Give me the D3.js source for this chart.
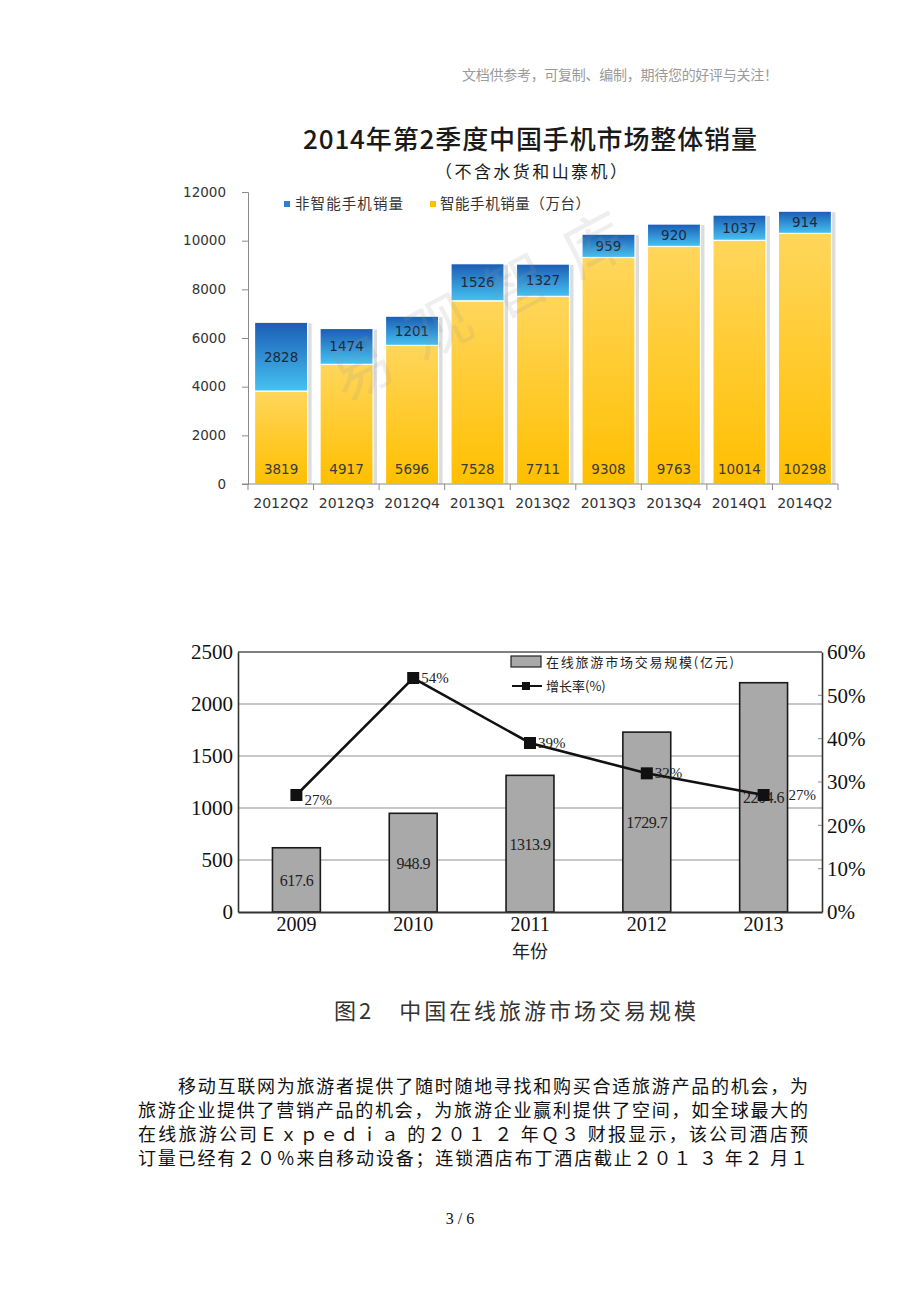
<!DOCTYPE html>
<html><head><meta charset="utf-8">
<script src="https://cdn.jsdelivr.net/npm/d3@7"></script>
<style>html,body{margin:0;padding:0;background:#fff;}svg{display:block;}</style>
</head><body>
<script>
// ---- Chart 1 data ----
const quarters = ["2012Q2","2012Q3","2012Q4","2013Q1","2013Q2","2013Q3","2013Q4","2014Q1","2014Q2"];
const smartSales = [3819,4917,5696,7528,7711,9308,9763,10014,10298];
const featureSales = [2828,1474,1201,1526,1327,959,920,1037,914];
const yTicks1 = [0,2000,4000,6000,8000,10000,12000];
// ---- Chart 2 data ----
const years = ["2009","2010","2011","2012","2013"];
const marketSize = [617.6,948.9,1313.9,1729.7,2204.6];
const growthRate = [27,54,39,32,27];
const yTicks2 = [0,500,1000,1500,2000,2500];
const yTicksPct = [0,10,20,30,40,50,60];
// ---- texts ----
const paragraph = [
 "移动互联网为旅游者提供了随时随地寻找和购买合适旅游产品的机会，为",
 "旅游企业提供了营销产品的机会，为旅游企业赢利提供了空间，如全球最大的",
 "在线旅游公司Ｅｘｐｅｄｉａ 的２０１ ２ 年Ｑ３ 财报显示，该公司酒店预",
 "订量已经有２０％来自移动设备；连锁酒店布丁酒店截止２０１ ３ 年２ 月１"
];

const W=920,H=1302;
const svg=d3.select("body").append("svg").attr("width",W).attr("height",H);
const defs=svg.append("defs");
const gB=defs.append("linearGradient").attr("id","gBlue").attr("x1",0).attr("y1",0).attr("x2",0).attr("y2",1);
gB.append("stop").attr("offset","0%").attr("stop-color","#1b5cb4");
gB.append("stop").attr("offset","100%").attr("stop-color","#45c2f2");
const gY=defs.append("linearGradient").attr("id","gYel").attr("x1",0).attr("y1",0).attr("x2",0).attr("y2",1);
gY.append("stop").attr("offset","0%").attr("stop-color","#ffd65c");
gY.append("stop").attr("offset","100%").attr("stop-color","#ffbf00");

// header
svg.append("text").attr("x",462).attr("y",80).attr("font-family","Noto Sans CJK SC").attr("font-size",14)
 .attr("fill","#9a9a9a").attr("textLength",316).text("文档供参考，可复制、编制，期待您的好评与关注！");

// ===== Chart 1 =====
const c1=svg.append("g");
const sans="'Noto Sans CJK SC','Noto Sans',sans-serif";
const num="'DejaVu Sans',Verdana,sans-serif";
c1.append("text").attr("x",530).attr("y",149).attr("text-anchor","middle").attr("font-family",sans)
 .attr("font-size",26).attr("font-weight",500).attr("fill","#1a1a1a").attr("textLength",454).text("2014年第2季度中国手机市场整体销量");
c1.append("text").attr("x",531).attr("y",178).attr("text-anchor","middle").attr("font-family",sans)
 .attr("font-size",17).attr("fill","#1a1a1a").attr("textLength",192).text("（不含水货和山寨机）");

const y1=d3.scaleLinear().domain([0,12000]).range([484,192]);
const x1=d3.scaleBand().domain(quarters).range([248,838]).paddingInner(0.19).paddingOuter(0.1);

// bars
const bars=c1.append("g").selectAll("g").data(quarters).join("g");
bars.append("rect").attr("x",d=>x1(d)+2).attr("y",(d,i)=>y1(smartSales[i]+featureSales[i])+1)
 .attr("width",x1.bandwidth()+2).attr("height",(d,i)=>484-y1(smartSales[i]+featureSales[i])-1)
 .attr("fill","#dcdcdc");
bars.append("rect").attr("x",d=>x1(d)).attr("y",(d,i)=>y1(smartSales[i]))
 .attr("width",x1.bandwidth()).attr("height",(d,i)=>484-y1(smartSales[i]))
 .attr("fill","url(#gYel)").attr("stroke","#fff").attr("stroke-width",1.2);
bars.append("rect").attr("x",d=>x1(d)).attr("y",(d,i)=>y1(smartSales[i]+featureSales[i]))
 .attr("width",x1.bandwidth()).attr("height",(d,i)=>y1(smartSales[i])-y1(smartSales[i]+featureSales[i]))
 .attr("fill","url(#gBlue)").attr("stroke","#fff").attr("stroke-width",1.2);

// watermark (over bars, faint)
c1.append("text").attr("transform","translate(500,320) rotate(-28)").attr("text-anchor","middle")
 .attr("font-family",sans).attr("font-size",62).attr("fill","rgba(150,150,150,0.16)")
 .attr("letter-spacing",26).text("易观智库");

bars.append("text").attr("x",d=>x1(d)+x1.bandwidth()/2).attr("y",474).attr("text-anchor","middle")
 .attr("font-family",num).attr("font-size",13.5).attr("fill","#3a3a3a").text((d,i)=>smartSales[i]);
bars.append("text").attr("x",d=>x1(d)+x1.bandwidth()/2)
 .attr("y",(d,i)=>(y1(smartSales[i])+y1(smartSales[i]+featureSales[i]))/2+5).attr("text-anchor","middle")
 .attr("font-family",num).attr("font-size",13.5).attr("fill","#1e2a3a").text((d,i)=>featureSales[i]);

// y axis
const ya1=c1.append("g").attr("transform","translate(248,0)")
 .call(d3.axisLeft(y1).tickValues(yTicks1).tickSize(6).tickPadding(16).tickFormat(d3.format("d")));
ya1.select(".domain").attr("stroke","#8a8a8a");
ya1.selectAll(".tick line").attr("stroke","#8a8a8a");
ya1.selectAll("text").attr("font-family",num).attr("font-size",13.5).attr("fill","#333");
// x axis
const xa1=c1.append("g").attr("transform","translate(0,484)")
 .call(d3.axisBottom(x1).tickSize(0).tickPadding(14));
xa1.select(".domain").attr("stroke","#8a8a8a").attr("d","M242,0H838");
xa1.selectAll("text").attr("font-family",num).attr("font-size",14).attr("fill","#333");
const step1=590/quarters.length;
c1.append("g").selectAll("line").data(d3.range(quarters.length+1)).join("line")
 .attr("x1",i=>248+i*step1).attr("x2",i=>248+i*step1)
 .attr("y1",484).attr("y2",490).attr("stroke","#8a8a8a");

// legend
const lg1=c1.append("g");
lg1.append("rect").attr("x",284).attr("y",201).attr("width",6).attr("height",6).attr("fill","#2f7fd0");
lg1.append("text").attr("x",295).attr("y",209).attr("font-family",sans).attr("font-size",14.5).attr("fill","#333").attr("textLength",108).text("非智能手机销量");
lg1.append("rect").attr("x",430).attr("y",201).attr("width",6).attr("height",6).attr("fill","#ffc000");
lg1.append("text").attr("x",440).attr("y",209).attr("font-family",sans).attr("font-size",14.5).attr("fill","#333").attr("textLength",150).text("智能手机销量（万台）");

// ===== Chart 2 =====
const c2=svg.append("g");
const serif="'Liberation Serif','Times New Roman',serif";
const y2=d3.scaleLinear().domain([0,2500]).range([912,652]);
const yp=d3.scaleLinear().domain([0,60]).range([912,652]);
const x2=d3.scaleBand().domain(years).range([238,822]).paddingInner(0.59).paddingOuter(0.295);

// gridlines
c2.append("g").selectAll("line").data(yTicks2.slice(1,-1)).join("line")
 .attr("x1",238).attr("x2",822).attr("y1",d=>y2(d)).attr("y2",d=>y2(d)).attr("stroke","#b5b5b5").attr("stroke-width",1.5);
// frame top
c2.append("line").attr("x1",238).attr("x2",822).attr("y1",652).attr("y2",652).attr("stroke","#555").attr("stroke-width",1.5);

// bars
c2.append("g").selectAll("rect").data(years).join("rect")
 .attr("x",d=>x2(d)).attr("y",(d,i)=>y2(marketSize[i])).attr("width",x2.bandwidth())
 .attr("height",(d,i)=>912-y2(marketSize[i])).attr("fill","#a9a9a9").attr("stroke","#1a1a1a").attr("stroke-width",1.6);
c2.append("g").selectAll("text").data(years).join("text")
 .attr("x",d=>x2(d)+x2.bandwidth()/2).attr("y",(d,i)=>(y2(marketSize[i])+912)/2+6).attr("text-anchor","middle")
 .attr("font-family",serif).attr("font-size",16).attr("fill","#222").attr("letter-spacing",-0.5).text((d,i)=>marketSize[i]);

// axes
const ya2=c2.append("g").attr("transform","translate(238,0)")
 .call(d3.axisLeft(y2).tickValues(yTicks2).tickSize(0).tickPadding(5).tickFormat(d3.format("d")));
ya2.select(".domain").attr("stroke","#333").attr("stroke-width",1.6);
ya2.selectAll("text").attr("font-family",serif).attr("font-size",21).attr("fill","#111");
const yr2=c2.append("g").attr("transform","translate(822,0)")
 .call(d3.axisRight(yp).tickValues(yTicksPct).tickSize(0).tickPadding(5).tickFormat(d=>d+"%"));
yr2.select(".domain").attr("stroke","#333").attr("stroke-width",1.6);
yr2.selectAll("text").attr("font-family",serif).attr("font-size",21).attr("fill","#111");
c2.append("g").selectAll("line").data(yTicksPct.slice(1,-1)).join("line")
 .attr("x1",818).attr("x2",822).attr("y1",d=>yp(d)).attr("y2",d=>yp(d)).attr("stroke","#888");
const xa2=c2.append("g").attr("transform","translate(0,912)")
 .call(d3.axisBottom(x2).tickSize(0).tickPadding(5));
xa2.select(".domain").attr("stroke","#333").attr("stroke-width",1.8);
xa2.selectAll("text").attr("font-family",serif).attr("font-size",20).attr("fill","#111");
c2.append("text").attr("x",530).attr("y",958).attr("text-anchor","middle").attr("font-family",sans)
 .attr("font-size",18).attr("fill","#222").text("年份");

// line
const line=d3.line().x((d,i)=>x2(years[i])+x2.bandwidth()/2).y(d=>yp(d));
c2.append("path").datum(growthRate).attr("d",line).attr("fill","none").attr("stroke","#111").attr("stroke-width",2.6);
c2.append("g").selectAll("rect").data(growthRate).join("rect")
 .attr("x",(d,i)=>x2(years[i])+x2.bandwidth()/2-6).attr("y",d=>yp(d)-6).attr("width",12).attr("height",12).attr("fill","#111");
c2.append("g").selectAll("text").data(growthRate).join("text")
 .attr("x",(d,i)=>x2(years[i])+x2.bandwidth()/2+(i===4?25:8)).attr("y",(d,i)=>yp(d)+(i===0?10:5))
 .attr("font-family",serif).attr("font-size",15).attr("fill","#222").text(d=>d+"%");

// legend
const lg2=c2.append("g");
lg2.append("rect").attr("x",511).attr("y",656).attr("width",30).attr("height",11).attr("fill","#a9a9a9").attr("stroke","#222").attr("stroke-width",1.2);
lg2.append("text").attr("x",546).attr("y",667).attr("font-family",sans).attr("font-size",13).attr("fill","#222").attr("textLength",188).text("在线旅游市场交易规模(亿元)");
lg2.append("line").attr("x1",512).attr("x2",542).attr("y1",686).attr("y2",686).attr("stroke","#111").attr("stroke-width",2);
lg2.append("rect").attr("x",522).attr("y",682).attr("width",8).attr("height",8).attr("fill","#111");
lg2.append("text").attr("x",546).attr("y",691).attr("font-family",sans).attr("font-size",13).attr("fill","#222").text("增长率(%)");

// caption
svg.append("text").attr("x",334).attr("y",1019).attr("font-family",sans).attr("font-size",22).attr("fill","#333")
 .attr("textLength",362).text("图2　中国在线旅游市场交易规模");

// paragraph
const starts=[178,138,138,138];
svg.append("g").selectAll("text").data(paragraph).join("text")
 .attr("x",(d,i)=>starts[i]).attr("y",(d,i)=>1093+i*24).attr("font-family",sans).attr("font-size",18)
 .attr("fill","#111").attr("textLength",(d,i)=>808-starts[i]).attr("lengthAdjust","spacing").text(d=>d);

// page number
svg.append("text").attr("x",460).attr("y",1224).attr("text-anchor","middle").attr("font-family",serif)
 .attr("font-size",16).attr("fill","#111").text("3 / 6");
</script>
</body></html>
